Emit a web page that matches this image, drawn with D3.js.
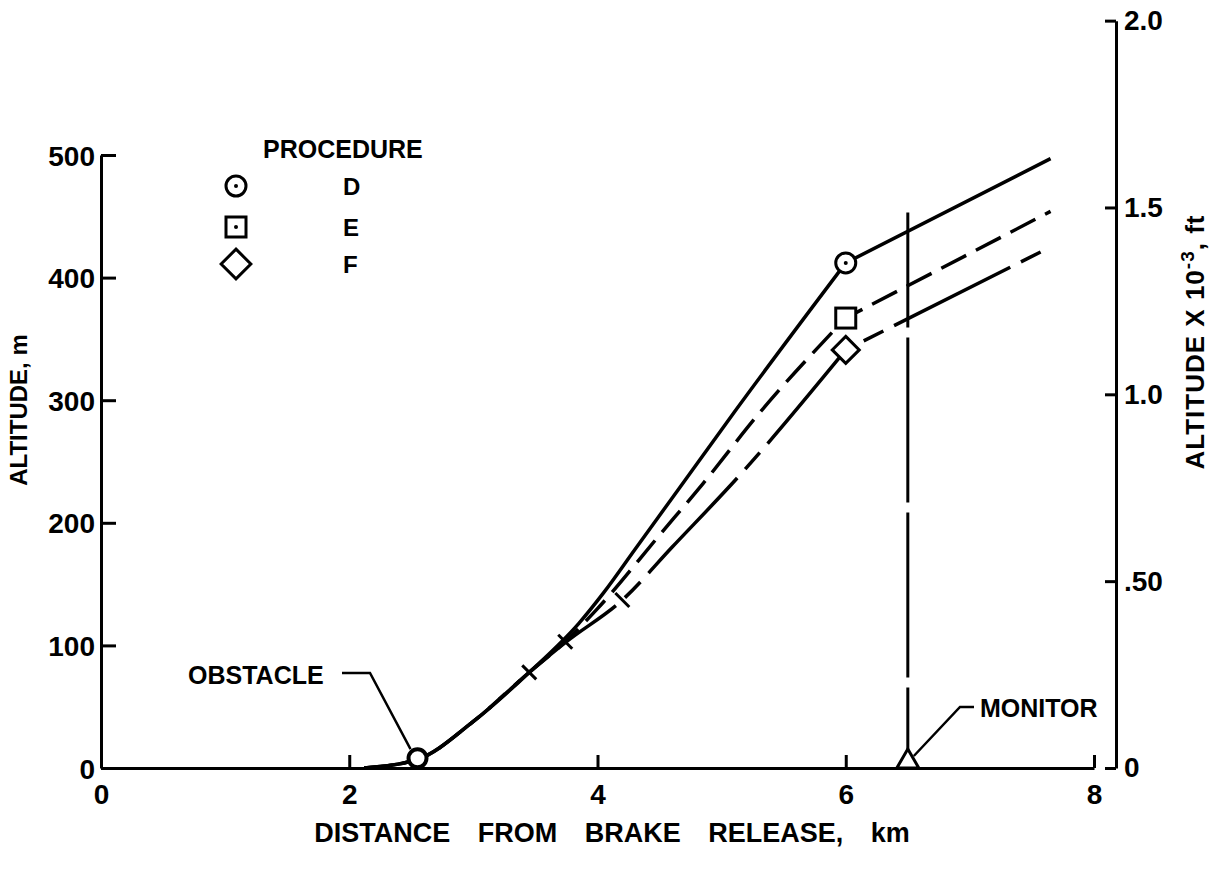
<!DOCTYPE html>
<html>
<head>
<meta charset="utf-8">
<script src="https://cdn.jsdelivr.net/npm/d3@7"></script>
<style>
  body { margin: 0; background: #fff; }
  svg text { font-family: "Liberation Sans", Arial, sans-serif; font-weight: bold; fill: #000; }
</style>
</head>
<body>
<svg id="chart"></svg>
<script>
// data (distance in km, altitude in m)
const procedures = ['D', 'E', 'F']
const sharedKm = [2.12, 2.55, 3.0, 3.45]
const sharedAlt = [0, 7, 38, 78]
const dKm = [3.85, 4.05, 4.3, 4.65, 5.1, 6.0, 7.65]
const dAlt = [118, 143, 178, 227, 290, 412, 497]
const eKm = [3.75, 4.0, 4.5, 4.85, 5.3, 6.0, 7.65]
const eAlt = [104, 130, 190, 232, 289, 367, 454]
const fKm = [3.75, 4.2, 4.6, 5.13, 6.0, 7.65]
const fAlt = [103, 137, 180, 237, 341, 425]
const markKm = [3.45, 3.74, 4.2]
const markAlt = [78, 103, 137]
const obstacleKm = 2.55
const obstacleAlt = 8
const monitorKm = 6.5
const monitorTopAlt = 453
const xTicks = [0, 2, 4, 6, 8]
const yTicks = [0, 100, 200, 300, 400, 500]
const ftTicks = [0, 500, 1000, 1500, 2000]
const ftLabels = ['0', '.50', '1.0', '1.5', '2.0']

const width = 1218
const height = 873

const svg = d3.select('#chart')
  .attr('width', width)
  .attr('height', height)

svg.append('rect').attr('width', width).attr('height', height).attr('fill', '#fff')

// scales
const x = d3.scaleLinear().domain([0, 8]).range([101, 1094])
const y = d3.scaleLinear().domain([0, 500]).range([768, 155])
// same vertical scale in feet, running on up to 2000 ft
const yFt = d3.scaleLinear().domain([0, 2000]).range([y(0), y(2000 * 0.3048)])

const styleAxis = g => {
  g.selectAll('path, line').attr('stroke', '#000').attr('stroke-width', 3)
  g.selectAll('text').style('font-size', '28px').attr('fill', '#000')
}

// left axis (m)
svg.append('g')
  .attr('transform', `translate(${x(0)},0)`)
  .call(d3.axisLeft(y).tickValues(yTicks).tickSize(-15).tickSizeOuter(0).tickPadding(6))
  .call(styleAxis)
  .call(g => g.selectAll('text').attr('dy', '0.36em'))

// bottom axis
svg.append('g')
  .attr('transform', `translate(0,${y(0)})`)
  .call(d3.axisBottom(x).tickValues(xTicks).tickSize(-13).tickSizeOuter(0).tickPadding(16))
  .call(styleAxis)

// right axis (ft x 10^-3)
svg.append('g')
  .attr('transform', 'translate(1116,0)')
  .call(d3.axisRight(yFt).tickValues(ftTicks).tickSize(-11).tickSizeOuter(0).tickPadding(8)
    .tickFormat((d, i) => ftLabels[i]))
  .call(styleAxis)

// axis titles
svg.append('text')
  .attr('x', 612).attr('y', 842)
  .attr('text-anchor', 'middle')
  .style('font-size', '27px')
  .style('word-spacing', '20px')
  .text('DISTANCE FROM BRAKE RELEASE, km')

svg.append('text')
  .attr('transform', 'translate(27,410) rotate(-90)')
  .attr('text-anchor', 'middle')
  .style('font-size', '24px')
  .text('ALTITUDE, m')

const rightTitle = svg.append('text')
  .attr('transform', 'translate(1204,342) rotate(-90)')
  .attr('text-anchor', 'middle')
  .style('font-size', '26px')
  .style('letter-spacing', '1px')
rightTitle.append('tspan').text('ALTITUDE X 10')
rightTitle.append('tspan').attr('dy', -10).style('font-size', '19px').text('-3')
rightTitle.append('tspan').attr('dy', 10).text(', ft')

// curves
const smooth = d3.line().x(d => x(d[0])).y(d => y(d[1])).curve(d3.curveMonotoneX)
const shared = sharedKm.map((k, i) => [k, sharedAlt[i]])
const series = [
  { name: 'D', pts: shared.concat(dKm.map((k, i) => [k, dAlt[i]])), dash: null },
  { name: 'E', pts: shared.concat(eKm.map((k, i) => [k, eAlt[i]])), dash: '28,11' },
  { name: 'F', pts: shared.concat(fKm.map((k, i) => [k, fAlt[i]])), dash: '130,12,22,12' }
]

// curved climb up to 6 km, then a straight segment to the end
series.forEach(s => {
  const last = s.pts[s.pts.length - 1]
  const path = smooth(s.pts.slice(0, -1)) + `L${x(last[0])},${y(last[1])}`
  svg.append('path')
    .attr('d', path)
    .attr('fill', 'none')
    .attr('stroke', '#000')
    .attr('stroke-width', 3.5)
    .attr('stroke-dasharray', s.dash)
})

// small cross ticks on the curves
markKm.forEach((k, i) => {
  const px = x(k)
  const py = y(markAlt[i])
  svg.append('line')
    .attr('x1', px - 7).attr('y1', py - 7)
    .attr('x2', px + 7).attr('y2', py + 7)
    .attr('stroke', '#000').attr('stroke-width', 3)
})

// monitor line
svg.append('line')
  .attr('x1', x(monitorKm)).attr('y1', y(monitorTopAlt))
  .attr('x2', x(monitorKm)).attr('y2', y(0) - 18)
  .attr('stroke', '#000').attr('stroke-width', 3)
  .attr('stroke-dasharray', '165,10')
  .attr('stroke-dashoffset', 50)

// symbol drawing helpers
const drawSymbol = (g, name, cx, cy, size, dot) => {
  if (name === 'D') {
    g.append('circle').attr('cx', cx).attr('cy', cy).attr('r', size)
      .attr('fill', '#fff').attr('stroke', '#000').attr('stroke-width', 3)
  } else if (name === 'E') {
    g.append('rect').attr('x', cx - size).attr('y', cy - size)
      .attr('width', size * 2).attr('height', size * 2)
      .attr('fill', '#fff').attr('stroke', '#000').attr('stroke-width', 3)
  } else {
    const h = size * 1.35
    g.append('path')
      .attr('d', `M${cx},${cy - h}L${cx + h},${cy}L${cx},${cy + h}L${cx - h},${cy}Z`)
      .attr('fill', '#fff').attr('stroke', '#000').attr('stroke-width', 3)
  }
  if (dot) g.append('circle').attr('cx', cx).attr('cy', cy).attr('r', 2).attr('fill', '#000')
}

// markers at 6 km
const markers = svg.append('g')
series.forEach(s => {
  const p = s.pts.find(d => d[0] === 6.0)
  drawSymbol(markers, s.name, x(p[0]), y(p[1]), 10, s.name === 'D')
})

// obstacle
svg.append('circle')
  .attr('cx', x(obstacleKm)).attr('cy', y(obstacleAlt)).attr('r', 9)
  .attr('fill', '#fff').attr('stroke', '#000').attr('stroke-width', 4)
svg.append('path')
  .attr('d', `M342,673H370L${x(obstacleKm) - 7},${y(obstacleAlt) - 9}`)
  .attr('fill', 'none').attr('stroke', '#000').attr('stroke-width', 2.5)
svg.append('text').attr('x', 188).attr('y', 684).style('font-size', '25px').text('OBSTACLE')

// monitor
const mx = x(monitorKm)
svg.append('path')
  .attr('d', `M${mx - 11},${y(0)}L${mx},${y(0) - 19}L${mx + 11},${y(0)}Z`)
  .attr('fill', '#fff').attr('stroke', '#000').attr('stroke-width', 3)
svg.append('path')
  .attr('d', `M${mx + 6},${y(0) - 12}L960,707H974`)
  .attr('fill', 'none').attr('stroke', '#000').attr('stroke-width', 2.5)
svg.append('text').attr('x', 980).attr('y', 717).style('font-size', '25px').text('MONITOR')

// legend
const legend = svg.append('g')
legend.append('text').attr('x', 263).attr('y', 158).style('font-size', '25px').text('PROCEDURE')
const legendY = [186, 227, 264]
procedures.forEach((p, i) => {
  drawSymbol(legend, p, 236, legendY[i], p === 'F' ? 11 : 10, p !== 'F')
  legend.append('text').attr('x', 343).attr('y', legendY[i] + 9).style('font-size', '24px').text(p)
})
</script>
</body>
</html>
